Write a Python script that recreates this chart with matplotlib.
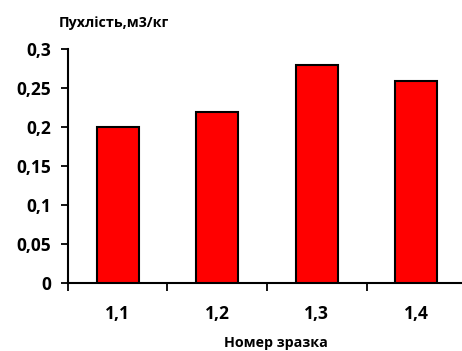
import matplotlib
matplotlib.use("Agg")
import matplotlib.pyplot as plt
import numpy as np

plt.rcParams["font.family"] = ["Open Sans", "DejaVu Sans"]
plt.rcParams["font.weight"] = "bold"

samples = ["1,1", "1,2", "1,3", "1,4"]
looseness = [0.20, 0.22, 0.28, 0.26]
y_ticks = [0, 0.05, 0.10, 0.15, 0.20, 0.25, 0.30]
y_tick_labels = ["0", "0,05", "0,1", "0,15", "0,2", "0,25", "0,3"]

fig = plt.figure(figsize=(4.62, 3.51), dpi=100)
ax = fig.add_axes([0.147, 0.195, 0.862, 0.664])

x = np.arange(len(samples))
ax.bar(x, looseness, width=0.42, color="#ff0000", edgecolor="black", linewidth=1.5, zorder=3)

ax.set_xlim(-0.5, len(samples) - 0.5)
ax.set_ylim(0, 0.3)

ax.set_yticks(y_ticks)
ax.set_yticklabels(y_tick_labels, fontsize=12.5, fontweight="bold")
ax.set_xticks(x)
ax.set_xticklabels(samples, fontsize=12.5, fontweight="bold")
ax.tick_params(axis="x", length=0, pad=16)
ax.tick_params(axis="y", direction="out", length=5, width=1.3, pad=7)

# category separators on the x axis
ax.set_xticks(np.arange(len(samples)) - 0.5, minor=True)
ax.tick_params(axis="x", which="minor", direction="out", length=6, width=1.3)

for side in ("top", "right"):
    ax.spines[side].set_visible(False)
for side in ("left", "bottom"):
    ax.spines[side].set_linewidth(1.5)

fig.text(0.247, 0.934, "Пухлість,м3/кг", fontsize=10.3, fontweight="bold", ha="center", va="center")
fig.text(0.598, 0.024, "Номер зразка", fontsize=10.3, fontweight="bold", ha="center", va="center")

fig.savefig("out.png", dpi=100)
